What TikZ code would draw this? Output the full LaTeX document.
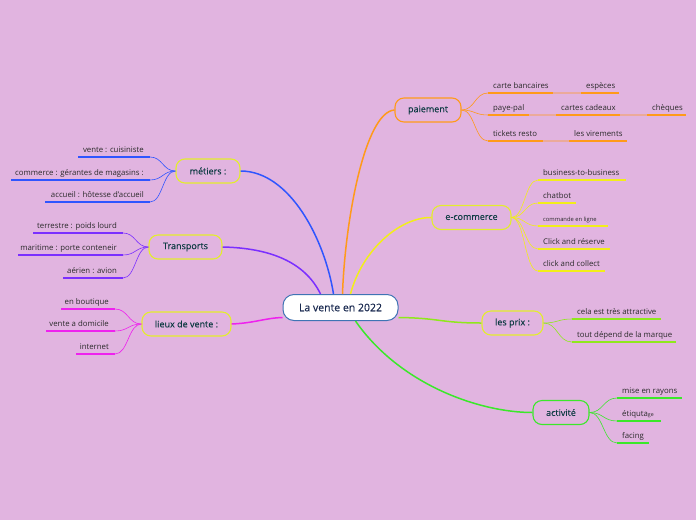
\documentclass[tikz,border=0pt]{standalone}
\usepackage{fontspec}
\setmainfont{Open Sans}
\newfontfamily\semib[FakeBold=0.35]{Open Sans}
\usetikzlibrary{calc}
\definecolor{bg}{HTML}{E1B4E0}
\definecolor{cblue}{HTML}{2F55FF}
\definecolor{cpurple}{HTML}{7B2FFF}
\definecolor{cmag}{HTML}{EE22EE}
\definecolor{corange}{HTML}{FF9A1A}
\definecolor{cyellow}{HTML}{F2EE1A}
\definecolor{clime}{HTML}{8FE81C}
\definecolor{cgreen}{HTML}{3BE82A}
\definecolor{cbox}{HTML}{E3EE2C}
\definecolor{maintext}{HTML}{0E3B43}
\definecolor{leaftext}{HTML}{2A2A2A}
\definecolor{centtext}{HTML}{1A2A50}
\definecolor{centborder}{HTML}{3F74B4}
\newcommand{\leafR}[6]{%
  \coordinate (#1-a) at (#2,#4); \coordinate (#1-b) at (#3,#4);
  \draw[ul,#5] (#1-a) -- (#1-b);
  \node[leaf,anchor=base west] (#1) at ($(#1-a)+(5,-5)$) {#6};}
\newcommand{\leafL}[6]{%
  \coordinate (#1-a) at (#2,#4); \coordinate (#1-b) at (#3,#4);
  \draw[ul,#5] (#1-a) -- (#1-b);
  \node[leaf,anchor=base east] (#1) at ($(#1-b)+(-6,-5)$) {#6};}
\newcommand{\scurve}[3]{%
  \coordinate (tmpm) at ($(#1)!0.5!(#2)$);
  \draw[con,#3] (#1) .. controls (tmpm |- #1) and (tmpm |- #2) .. (#2);}
\begin{document}
\begin{tikzpicture}[x=1pt,y=-1pt,
  mainbox/.style={draw, rounded corners=9pt, line width=1.1pt, minimum height=24pt,
    inner xsep=4pt, font=\semib\fontsize{9}{10}\selectfont, text=maintext},
  leaf/.style={font=\fontsize{7.8}{9}\selectfont, text=leaftext, inner sep=0pt},
  ul/.style={line width=1.6pt},
  con/.style={line width=0.6pt},
  br/.style={line width=1.5pt},
  faint/.style={line width=1.6pt, opacity=0.35}]
\fill[bg] (0,0) rectangle (696,520);
\useasboundingbox (0,0) rectangle (696,520);

% central
\node[draw=centborder, fill=white, rounded corners=11pt, line width=1pt,
  minimum width=115pt, minimum height=26pt, text=centtext,
  font=\semib\fontsize{10.5}{12}\selectfont] (c) at (340.5,307.5) {La vente en 2022};

% main nodes
\node[mainbox, draw=corange, minimum width=66pt] (pay) at (428,110) {paiement};
\node[mainbox, draw=cbox, minimum width=79pt] (ecom) at (471.5,217.5) {e-commerce};
\node[mainbox, draw=cbox, minimum width=61pt] (prix) at (512.5,323) {les prix :};
\node[mainbox, draw=cgreen, minimum width=56pt] (act) at (561,412.5) {activité};
\node[mainbox, draw=cbox, minimum width=64pt] (met) at (208,171) {métiers :};
\node[mainbox, draw=cbox, minimum width=73pt] (tra) at (185.5,247) {Transports};
\node[mainbox, draw=cbox, minimum width=89pt] (lie) at (186.5,324) {lieux de vente :};

% central connectors
\coordinate (cp) at ($(c.north)+(-20,0)$);
\coordinate (cb) at ($(c.north)+(-7,0)$);
\coordinate (co) at ($(c.north)+(2,0)$);
\coordinate (cy) at ($(c.north)+(10,0)$);
\coordinate (cl) at ($(c.east)+(0,10)$);
\coordinate (cg) at ($(c.south)+(15,0)$);
\coordinate (cm) at ($(c.west)+(0,10)$);
\draw[br,cblue] (met.east) .. controls (290,171) and (325,240) .. (cb);
\draw[br,cpurple] (tra.east) .. controls (270,248) and (305,262) .. (cp);
\draw[br,cmag] (lie.east) .. controls (255,323) and (265,318) .. (cm);
\draw[br,corange] (co) .. controls (345,220) and (365,112) .. (pay.west);
\draw[br,cyellow] (cy) .. controls (362,250) and (400,217) .. (ecom.west);
\draw[br,clime] (cl) .. controls (440,318) and (440,323) .. (prix.west);
\draw[br,cgreen] (cg) .. controls (400,385) and (480,412.5) .. (act.west);

% métiers leaves
\leafL{m1}{78}{150}{157}{cblue}{vente : cuisiniste}
\leafL{m2}{11}{150}{180}{cblue}{commerce : gérantes de magasins :}
\leafL{m3}{45}{150}{202}{cblue}{accueil : hôtesse d'accueil}
\scurve{met.west}{m1-b}{cblue}
\scurve{met.west}{m2-b}{cblue}
\scurve{met.west}{m3-b}{cblue}

% Transports leaves
\leafL{t1}{33}{123}{233}{cpurple}{terrestre : poids lourd}
\leafL{t2}{18}{123}{255}{cpurple}{maritime : porte conteneir}
\leafL{t3}{63}{123}{278}{cpurple}{aérien : avion}
\scurve{tra.west}{t1-b}{cpurple}
\scurve{tra.west}{t2-b}{cpurple}
\scurve{tra.west}{t3-b}{cpurple}

% lieux leaves
\leafL{l1}{61}{115}{309}{cmag}{en boutique}
\leafL{l2}{46}{115}{331}{cmag}{vente a domicile}
\leafL{l3}{76}{115}{354}{cmag}{internet}
\scurve{lie.west}{l1-b}{cmag}
\scurve{lie.west}{l2-b}{cmag}
\scurve{lie.west}{l3-b}{cmag}

% paiement leaves
\leafR{p1}{488}{553}{93}{corange}{carte bancaires}
\leafR{p1b}{581}{619}{93}{corange}{espèces}
\leafR{p2}{488}{529}{115}{corange}{paye-pal}
\leafR{p2b}{556}{620}{115}{corange}{cartes cadeaux}
\leafR{p2c}{647}{686}{115}{corange}{chèques}
\leafR{p3}{488}{543}{141}{corange}{tickets resto}
\leafR{p3b}{569}{627}{141}{corange}{les virements}
\draw[faint,corange] (p1-b) -- (p1b-a);
\draw[faint,corange] (p2-b) -- (p2b-a);
\draw[faint,corange] (p2b-b) -- (p2c-a);
\draw[faint,corange] (p3-b) -- (p3b-a);
\scurve{pay.east}{p1-a}{corange}
\scurve{pay.east}{p2-a}{corange}
\scurve{pay.east}{p3-a}{corange}

% e-commerce leaves
\leafR{e1}{538}{626}{180}{cyellow}{business-to-business}
\leafR{e2}{538}{576}{203}{cyellow}{chatbot}
\leafR{e3}{538}{608}{226}{cyellow}{\fontsize{5.8}{7}\selectfont commande en ligne}
\leafR{e4}{538}{610}{249}{cyellow}{Click and réserve}
\leafR{e5}{538}{605}{271}{cyellow}{click and collect}
\scurve{ecom.east}{e1-a}{cyellow}
\scurve{ecom.east}{e2-a}{cyellow}
\scurve{ecom.east}{e3-a}{cyellow}
\scurve{ecom.east}{e4-a}{cyellow}
\scurve{ecom.east}{e5-a}{cyellow}

% les prix leaves
\leafR{x1}{572}{661}{319}{clime}{cela est très attractive}
\leafR{x2}{572}{676}{342}{clime}{tout dépend de la marque}
\scurve{prix.east}{x1-a}{clime}
\scurve{prix.east}{x2-a}{clime}

% activité leaves
\leafR{a1}{617}{682}{398}{cgreen}{mise en rayons}
\leafR{a2}{617}{661}{421}{cgreen}{étiquta{\fontsize{5.2}{6}\selectfont ge}}
\leafR{a3}{617}{649}{443}{cgreen}{facing}
\scurve{act.east}{a1-a}{cgreen}
\scurve{act.east}{a2-a}{cgreen}
\scurve{act.east}{a3-a}{cgreen}
\end{tikzpicture}
\end{document}
